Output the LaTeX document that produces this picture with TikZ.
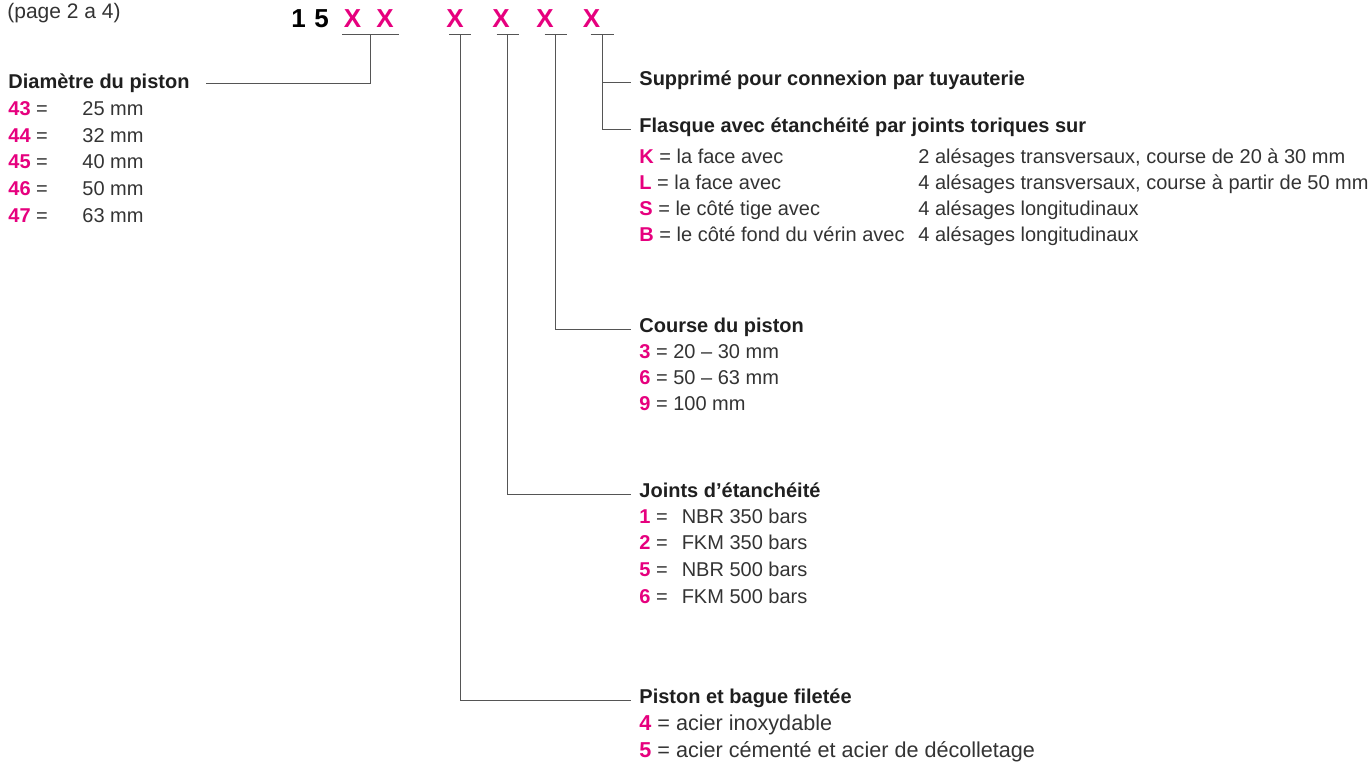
\documentclass[tikz,border=0pt]{standalone}
\usepackage{fontspec}
\setmainfont{Liberation Sans}
\usepackage{xcolor}
\definecolor{codepink}{RGB}{230,0,126}
\definecolor{inkgray}{RGB}{51,51,51}
\definecolor{leadgray}{RGB}{85,85,85}
\newcommand{\cd}[1]{\textcolor{codepink}{\bfseries #1}}

\begin{document}
\begin{tikzpicture}[x=0.5pt, y=-0.5pt,
  lbl/.style={inner sep=0pt, anchor=base west, text=inkgray, font=\fontsize{10}{12}\selectfont},
  head/.style={lbl, text=black!88, font=\fontsize{10}{12}\selectfont\bfseries},
  digit/.style={inner sep=0pt, anchor=base, font=\fontsize{13}{15}\selectfont\bfseries},
  lead/.style={draw=leadgray, line width=0.5pt},
  tohead/.style={lead, shorten >=4pt}]
  \useasboundingbox (0,0) rectangle (1369,762);
  % pixel grid: x to the right, y downwards
  \node[lbl, font=\fontsize{10.5}{12}\selectfont] (page) at (7,18) {(page 2 a 4)};

  % order code
  \foreach \t/\x/\c [count=\i] in {1/298.5/black, 5/321.5/black, X/352.5/codepink, X/385/codepink,
      X/455/codepink, X/501/codepink, X/545/codepink, X/591.5/codepink}
    { \node[digit, text=\c] (d\i) at (\x,27) {\t}; }
  \foreach \n/\x/\w in {1/370.5/14.25pt, 3/460/5.5pt, 4/507.5/5.5pt, 5/555.5/5.5pt, 6/602/5.75pt}
    { \coordinate (b\n) at (\x,34.5);
      \draw[lead] ([xshift=-\w]b\n) -- ([xshift=\w]b\n); }

  % piston diameter
  \node[head] (diam) at (8,88.5) {Diamètre du piston};
  \foreach \c/\v [count=\i] in {43/25, 44/32, 45/40, 46/50, 47/63}
    { \node[lbl] (dc\i) at (8,89+26.6*\i) {\cd{\c} =};
      \node[lbl] (dv\i) at (82,89+26.6*\i) {\v~mm}; }
  \draw[lead] (b1) |- ([xshift=8pt, yshift=2.5pt]diam.base east);

  % flange
  \node[head] (supp) at (639,85) {Supprimé pour connexion par tuyauterie};
  \node[head] (flasque) at (639,132) {Flasque avec étanchéité par joints toriques sur};
  \foreach \c/\a/\b [count=\i] in {K/la face avec/2 alésages transversaux{,} course de 20 à 30 mm,
      L/la face avec/4 alésages transversaux{,} course à partir de 50 mm,
      S/le côté tige avec/4 alésages longitudinaux,
      B/le côté fond du vérin avec/4 alésages longitudinaux}
    { \node[lbl] (fa\i) at (639,136.7+26.3*\i) {\cd{\c} = \a};
      \node[lbl] (fb\i) at (918,136.7+26.3*\i) {\b}; }
  \draw[tohead] (b6) |- ([yshift=1.5pt]supp.base west);
  \draw[tohead] (b6) |- ([yshift=1.5pt]flasque.base west);

  % stroke
  \node[head] (course) at (639,332) {Course du piston};
  \node[lbl] (co1) at (639,358) {\cd{3} = 20 – 30 mm};
  \node[lbl] (co2) at (639,384) {\cd{6} = 50 – 63 mm};
  \node[lbl] (co3) at (639,410) {\cd{9} = 100 mm};
  \draw[tohead] (b5) |- ([yshift=1.5pt]course.base west);

  % seals
  \node[head] (joints) at (639,497) {Joints d’étanchéité};
  \foreach \c/\v [count=\i] in {1/NBR 350, 2/FKM 350, 5/NBR 500, 6/FKM 500}
    { \node[lbl] (jo\i) at (639,496.3+26.7*\i) {\cd{\c} =\hspace{0.7em}\v~bars}; }
  \draw[tohead] (b4) |- ([yshift=1.5pt]joints.base west);

  % piston material
  \node[head] (piston) at (639,703) {Piston et bague filetée};
  \node[lbl, font=\fontsize{10.8}{12}\selectfont] (pi1) at (639,730) {\cd{4} = acier inoxydable};
  \node[lbl, font=\fontsize{10.8}{12}\selectfont] (pi2) at (639,757) {\cd{5} = acier cémenté et acier de décolletage};
  \draw[tohead] (b3) |- ([yshift=1.5pt]piston.base west);
\end{tikzpicture}
\end{document}
